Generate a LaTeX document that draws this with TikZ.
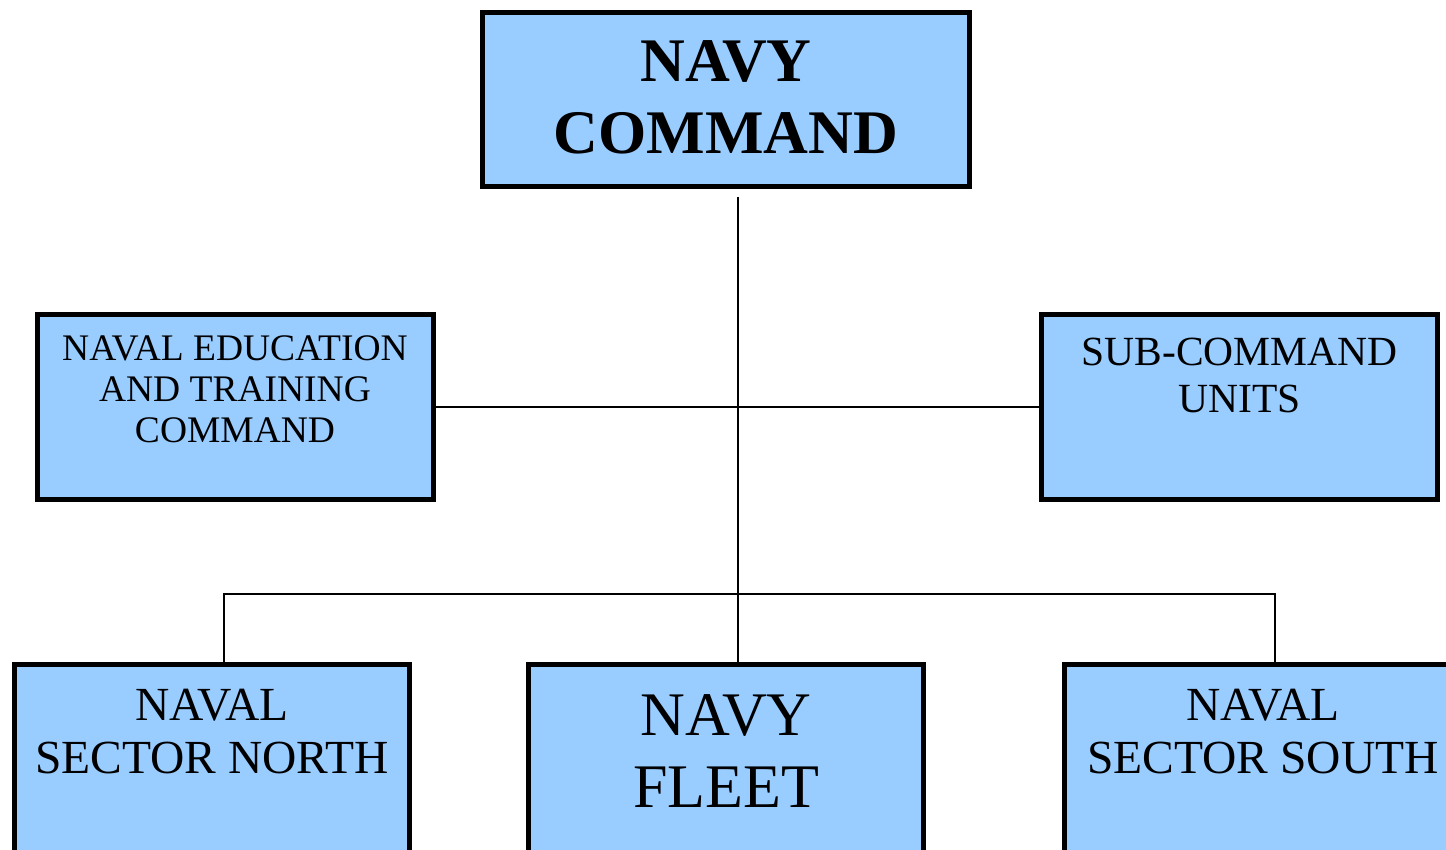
\documentclass[tikz,border=0pt]{standalone}
\usepackage{fontspec}
\setmainfont{Liberation Serif}
\definecolor{boxblue}{HTML}{99CCFF}
\begin{document}
\begin{tikzpicture}[x=1pt,y=-1pt,
  orgbox/.style={draw=black,fill=boxblue,line width=5pt,rectangle,inner sep=0pt},
  conn/.style={draw=black,line width=1.5pt},
  lbl/.style={align=center,anchor=base,inner sep=0pt,text=black}]
\clip (0,0) rectangle (1446,850);
% boxes
\node[orgbox,minimum width=487pt,minimum height=174pt] (navy) at (726,99.5) {};
\node[orgbox,minimum width=396pt,minimum height=185pt] (edu) at (235.5,407) {};
\node[orgbox,minimum width=396pt,minimum height=185pt] (sub) at (1239.5,407) {};
\node[orgbox,minimum width=395pt,minimum height=235pt] (north) at (212,782) {};
\node[orgbox,minimum width=395pt,minimum height=235pt] (fleet) at (726,782) {};
\node[orgbox,minimum width=395pt,minimum height=235pt] (south) at (1262,782) {};
% texts (base anchor = baseline of last line)
\node[lbl,font=\fontsize{62}{72}\selectfont\bfseries] (tnavy) at (726,154) {NAVY\\COMMAND};
\node[lbl,font=\fontsize{37.5}{41}\selectfont] (tedu) at (235,442) {NAVAL EDUCATION\\AND TRAINING\\COMMAND};
\node[lbl,font=\fontsize{41.5}{47}\selectfont] (tsub) at (1239.5,412) {SUB-COMMAND\\UNITS};
\node[lbl,font=\fontsize{47.5}{53}\selectfont] (tnorth) at (212,773) {NAVAL\\SECTOR NORTH};
\node[lbl,font=\fontsize{62}{72}\selectfont] (tfleet) at (726,807) {NAVY\\FLEET};
\node[lbl,font=\fontsize{47.5}{53}\selectfont] (tsouth) at (1263,773) {NAVAL\\SECTOR SOUTH};
% connectors
\coordinate (vtop) at (738,197);
\coordinate (jl) at (224,594);
\coordinate (jr) at (1275,594);
\draw[conn] (vtop) -- (vtop |- fleet.north);
\draw[conn] (edu.east) -- (sub.west);
\draw[conn] (jl |- north.north) -- (jl) -- (jr) -- (jr |- south.north);
\end{tikzpicture}
\end{document}
